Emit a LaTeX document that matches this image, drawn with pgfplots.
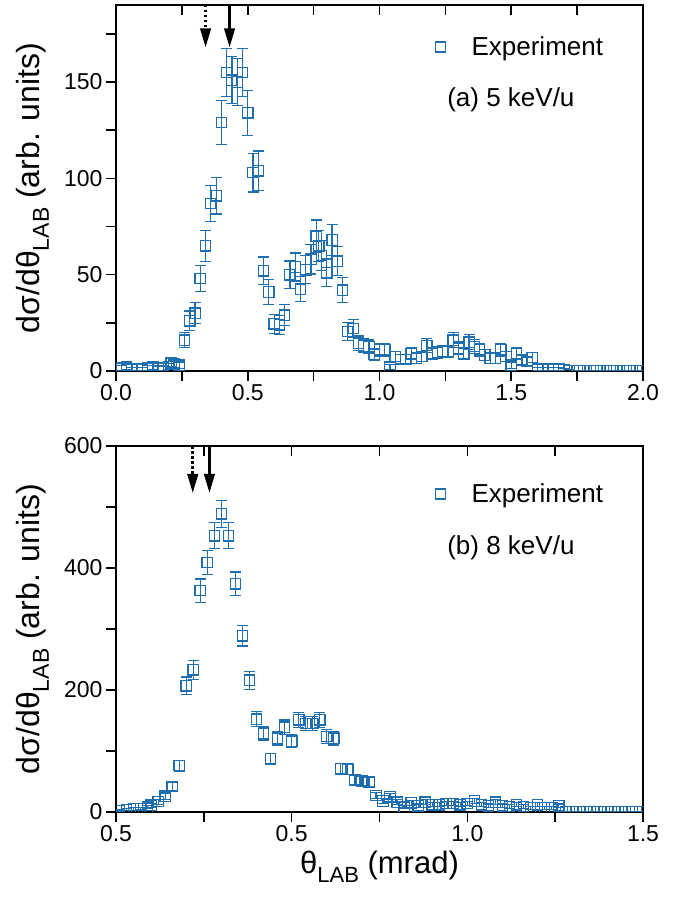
\documentclass[border=0pt]{standalone}
\usepackage{fontspec}
\setmainfont{Liberation Sans}
\usepackage{pgfplots}
\usepackage{pgfplotstable}
\pgfplotsset{compat=1.18}
\usetikzlibrary{arrows.meta}
\definecolor{expblue}{RGB}{31,111,176}
\newcommand{\lab}[1]{\raisebox{-0.28em}{\fontsize{#1}{#1}\selectfont LAB}}
\tikzset{arr/.style={line width=2.6bp, -{Triangle[length=19bp,width=10.5bp]}}}

\pgfplotstableread{
x y e
0.00 1.5 1.2
0.02 1.5 1.2
0.04 2.0 1.4
0.06 1.0 1.0
0.08 1.0 1.0
0.10 1.0 1.0
0.12 1.5 1.2
0.14 2.3 1.5
0.16 1.4 1.2
0.18 1.4 1.2
0.20 2.3 1.5
0.21 4.3 2.1
0.22 3.5 1.9
0.24 3.0 1.7
0.26 16 4.0
0.28 26 5.1
0.30 30 5.5
0.32 48 6.9
0.34 65 8.1
0.36 87 9.3
0.38 91 9.5
0.40 129 11.4
0.42 155 12.4
0.44 151 12.3
0.46 150 12.2
0.48 155 12.4
0.50 134 11.6
0.52 103 10.1
0.54 104 10.2
0.56 52 7.2
0.58 41 6.4
0.60 24.5 4.9
0.62 24 4.9
0.64 29 5.4
0.66 50 7.1
0.68 54 7.3
0.70 42.5 6.5
0.72 52.6 7.3
0.74 58 7.6
0.76 70 8.4
0.77 65 8.1
0.78 60 7.7
0.80 51 7.1
0.82 68 8.2
0.84 57 7.5
0.86 42 6.5
0.88 20.5 4.5
0.90 22 4.7
0.92 14.4 3.8
0.94 13 3.6
0.96 12.6 3.5
0.98 8.5 2.9
1.00 11 3.3
1.02 11 3.3
1.04 2 1.4
1.06 7.5 2.7
1.08 6 2.4
1.10 6 2.4
1.12 9 3.0
1.14 6.6 2.6
1.16 7.5 2.7
1.18 13.2 3.6
1.20 9 3.0
1.22 9.5 3.1
1.24 10 3.2
1.26 10 3.2
1.28 16 4.0
1.30 11.8 3.4
1.32 9 3.0
1.34 15 3.9
1.36 12.7 3.6
1.38 11 3.3
1.40 8.3 2.9
1.42 6.6 2.6
1.44 6.6 2.6
1.46 11 3.3
1.48 7.5 2.7
1.50 3 1.7
1.52 9 3.0
1.54 5.7 2.4
1.56 5 2.2
1.58 7 2.6
1.60 1 1.0
1.62 1 1.0
1.64 1 1.0
1.66 1 1.0
1.68 1 1.0
1.70 0.5 0.7
1.72 0.3 0.5
1.750 0 0
1.775 0 0
1.800 0 0
1.825 0 0
1.850 0 0
1.875 0 0
1.900 0 0
1.925 0 0
1.950 0 0
1.975 0 0
2.000 0 0
}\dataA

\pgfplotstableread{
x y e
0.01 2 1.4
0.03 4 2.0
0.05 5 2.2
0.07 5.5 2.3
0.09 8 2.8
0.10 11 3.3
0.12 17 4.1
0.14 26 5.1
0.16 42 6.5
0.18 76 8.7
0.20 207 14.4
0.22 233 15.3
0.24 363 19.1
0.26 409 20.2
0.28 453 21.3
0.30 489 22.1
0.32 453 21.3
0.34 374 19.3
0.36 289 17.0
0.38 216 14.7
0.40 152 12.3
0.42 128 11.3
0.44 87 9.3
0.46 121 11.0
0.48 139 11.8
0.50 116 10.8
0.52 151 12.3
0.54 145 12.0
0.56 145 12.0
0.58 151 12.3
0.60 124 11.1
0.62 121 11.0
0.64 71 8.4
0.66 70 8.4
0.68 53 7.3
0.70 51 7.1
0.72 49 7.0
0.74 27 5.2
0.76 18 4.2
0.78 25 5.0
0.80 16 4.0
0.82 8 2.8
0.84 15 3.9
0.86 10 3.2
0.88 16 4.0
0.90 12 3.5
0.92 12 3.5
0.94 14 3.7
0.96 14 3.7
0.98 12 3.5
1.00 14 3.7
1.02 18 4.2
1.04 12 3.5
1.06 10 3.2
1.08 16 4.0
1.10 10 3.2
1.12 9 3.0
1.14 12 3.5
1.16 9 3.0
1.18 7 2.6
1.20 12 3.5
1.22 7 2.6
1.24 7 2.6
1.26 10 3.2
1.28 0 0
1.30 0 0
1.32 0 0
1.34 0 0
1.36 0 0
1.38 0 0
1.40 0 0
1.42 0 0
1.44 0 0
1.46 0 0
1.48 0 0
1.50 0 0
}\dataB

\pgfplotsset{
  common/.style={
    scale only axis, width=527bp, height=366bp, anchor=south west,
    axis line style={line width=1.8bp, black},
    tick style={line width=1.6bp, black},
    major tick length=10bp,
    tick align=outside,
    xtick pos=bottom, ytick pos=left,
    clip marker paths=true,
    ticklabel style={font=\fontsize{23bp}{26bp}\selectfont},
    /pgf/number format/assume math mode=true,
    ylabel style={font=\fontsize{32bp}{36bp}\selectfont, at={(axis description cs:-0.158,0.5)}, anchor=center},
    xlabel style={font=\fontsize{31bp}{34bp}\selectfont},
    legend style={draw=none, fill=none, font=\fontsize{26bp}{30bp}\selectfont, inner sep=0pt},
    legend image code/.code={\path (-5bp,0bp) (29bp,0bp); \draw[##1] plot coordinates {(0bp,0bp)};},
  },
  topticks/.style={
    scale only axis, width=527bp, height=366bp, anchor=south west,
    axis x line*=top, hide y axis, axis line style={draw=none},
    tick style={line width=1.6bp, black}, major tick length=10bp,
    tick align=inside, xticklabels={},
  },
  expstyle/.style={
    forget plot, only marks, color=expblue, mark=square, mark size=5.2bp,
    mark options={line width=1.3bp, solid},
    error bars/.cd, y dir=both, y explicit,
    error bar style={line width=1.2bp, color=expblue},
    error mark options={rotate=90, mark size=5.5bp, line width=1.2bp, color=expblue},
  },
}

\begin{document}
\begin{tikzpicture}
\useasboundingbox (0,0) rectangle (681bp,906bp);
% ---------- panel (a)
\begin{axis}[common, at={(116bp,535bp)},
  xmin=0, xmax=2, ymin=0, ymax=190,
  xtick={0,0.25,0.5,0.75,1,1.25,1.5,1.75,2},
  xticklabels={0.0,,0.5,,1.0,,1.5,,2.0},
  ytick={0,25,50,75,100,125,150,175},
  yticklabels={0,,50,,100,,150,},
  ylabel={dσ/dθ\lab{23bp}\ (arb. units)},
  legend style={at={(axis description cs:0.6053,0.885)}, anchor=west},
]
\addplot+[expstyle] table[x=x, y=y, y error=e] {\dataA};
\addlegendimage{only marks, color=expblue, mark=square, mark size=5bp, mark options={line width=1.2bp}}
\addlegendentry{Experiment}
\node[anchor=west, font=\fontsize{26bp}{30bp}\selectfont] at (axis description cs:0.622,0.740) {(a) 5 keV/u};
\draw[arr, dash pattern=on 2.5bp off 2.5bp] (axis cs:0.34,190) -- (axis cs:0.34,168);
\draw[arr] (axis cs:0.431,190) -- (axis cs:0.431,168);
\end{axis}
\begin{axis}[topticks, at={(116bp,535bp)}, xmin=0, xmax=2, ymin=0, ymax=190,
  xtick={0,0.25,0.5,0.75,1,1.25,1.5,1.75,2}]
\end{axis}
% ---------- panel (b)
\begin{axis}[common, at={(116bp,94bp)},
  xmin=0, xmax=1.5, ymin=0, ymax=600,
  xtick={0,0.25,0.5,0.75,1,1.25,1.5},
  xticklabels={0.5,,0.5,,1.0,,1.5},
  ytick={0,100,200,300,400,500,600},
  yticklabels={0,,200,,400,,600},
  ylabel={dσ/dθ\lab{23bp}\ (arb. units)},
  xlabel={θ\lab{22bp}\ (mrad)},
  xlabel style={at={(axis description cs:0.5,0)}, anchor=north, yshift=-36bp},
  legend style={at={(axis description cs:0.6053,0.869)}, anchor=west},
]
\addplot+[expstyle] table[x=x, y=y, y error=e] {\dataB};
\addlegendimage{only marks, color=expblue, mark=square, mark size=5bp, mark options={line width=1.2bp}}
\addlegendentry{Experiment}
\node[anchor=west, font=\fontsize{26bp}{30bp}\selectfont] at (axis description cs:0.622,0.721) {(b) 8 keV/u};
\draw[arr, dash pattern=on 2.5bp off 2.5bp] (axis cs:0.2185,600) -- (axis cs:0.2185,523);
\draw[arr] (axis cs:0.266,600) -- (axis cs:0.266,523);
\end{axis}
\begin{axis}[topticks, at={(116bp,94bp)}, xmin=0, xmax=1.5, ymin=0, ymax=600,
  xtick={0,0.25,0.5,0.75,1,1.25,1.5}]
\end{axis}
\end{tikzpicture}
\end{document}
